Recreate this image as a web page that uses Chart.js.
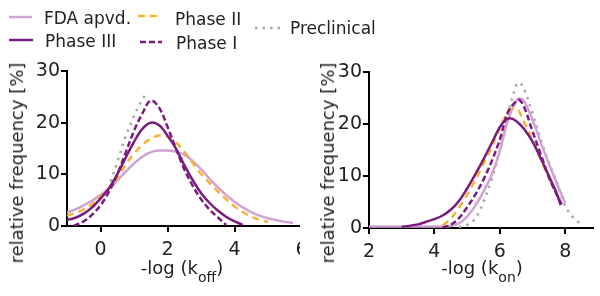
<!DOCTYPE html>
<html><head><meta charset="utf-8">
<script src="https://cdn.jsdelivr.net/npm/chart.js@4.4.1/dist/chart.umd.min.js"></script>
<style>
html,body{margin:0;padding:0;background:#fff;}
#root{position:relative;width:600px;height:296px;overflow:hidden;font-family:"DejaVu Sans",sans-serif;color:#222;}
.wrap{position:absolute;top:0;height:296px;overflow:hidden;}
.lg{position:absolute;font-size:17px;line-height:17px;white-space:nowrap;}
.ytitle{position:absolute;font-size:18px;line-height:18px;white-space:nowrap;transform:translate(-50%,-50%) rotate(-90deg);}
.xtitle{position:absolute;font-size:18px;line-height:18px;white-space:nowrap;transform:translateX(-50%);}
.xtitle span{font-size:14px;position:relative;top:8px;}
svg{position:absolute;left:0;top:0;}
</style></head>
<body><div id="root">
<div class="wrap" style="left:0;width:300px"><canvas id="c1" width="320" height="296"></canvas></div>
<div class="wrap" style="left:300px;width:300px"><canvas id="c2" width="300" height="296"></canvas></div>
<svg id="lgsvg" width="600" height="60"></svg>
<div id="legend"></div>
<div class="ytitle" style="left:17px;top:163px">relative frequency [%]</div>
<div class="ytitle" style="left:328px;top:163px">relative frequency [%]</div>
<div class="xtitle" style="left:182px;top:259px">-log (k<span>off</span>)</div>
<div class="xtitle" style="left:482px;top:259px">-log (k<span>on</span>)</div>
</div>
<script>
// ---- series names ----
const seriesNames = ["FDA apvd.", "Phase III", "Phase II", "Phase I", "Preclinical"];

// ---- tick labels ----
const offTicksX = [0, 2, 4, 6];
const onTicksX = [2, 4, 6, 8];
const freqTicks = [0, 10, 20, 30];

// ---- -log(k_off) panel ----
const offFdaX = [-1,-0.75,-0.5,-0.25,0,0.25,0.5,0.75,1,1.25,1.5,1.75,2,2.25,2.5,2.75,3,3.25,3.5,3.75,4,4.25,4.5,4.75,5,5.25,5.5,5.75];
const offFdaY = [2.6,3.2,4.0,4.9,6.0,7.2,8.8,10.5,12.1,13.4,14.3,14.6,14.6,14.4,13.8,12.6,11.0,9.2,7.5,6.0,4.7,3.6,2.7,2.0,1.5,1.1,0.8,0.6];
const offP3X = [-1,-0.75,-0.5,-0.25,0,0.25,0.5,0.75,1,1.25,1.5,1.75,2,2.25,2.5,2.75,3,3.25,3.5,3.75,4,4.25];
const offP3Y = [1.2,1.6,2.4,3.6,5.3,7.3,10.0,13.2,16.3,18.8,20.0,19.5,17.5,15.0,11.8,8.9,6.4,4.5,3.0,1.8,0.9,0.2];
const offP2X = [-1,-0.75,-0.5,-0.25,0,0.25,0.5,0.75,1,1.25,1.5,1.75,2,2.25,2.5,2.75,3,3.25,3.5,3.75,4,4.25,4.5,4.75,5];
const offP2Y = [2.0,2.5,3.2,4.2,5.7,7.2,9.3,11.9,14.0,15.7,16.9,17.5,17.3,16.2,14.4,12.2,10.1,8.4,6.7,5.2,3.8,2.7,1.8,1.2,0.8];
const offP1X = [-0.8,-0.5,-0.25,0,0.25,0.5,0.75,1,1.25,1.5,1.75,2,2.25,2.5,2.75,3,3.25,3.5,3.75];
const offP1Y = [0,0.9,2.2,4.0,6.6,10.0,14.2,18.4,21.8,24.3,22.9,19.2,15.0,11.0,7.8,5.2,3.2,1.7,0.2];
const offPreX = [0.3,0.5,0.75,1.0,1.15,1.32];
const offPreY = [8.6,12.3,17.3,21.3,23.3,25.2];

// ---- -log(k_on) panel ----
const onFdaX = [2,2.5,3,3.5,4,4.25,4.5,4.75,5,5.25,5.5,5.75,6,6.25,6.5,6.6,6.75,7,7.25,7.5,7.75,8];
const onFdaY = [0.3,0.3,0.3,0.3,0.3,0.3,0.4,0.9,2.2,4.3,7.0,10.2,14.8,20.8,24.4,24.9,24.3,20.8,16.5,12.4,8.5,4.8];
const onP3X = [3,3.5,3.75,4,4.25,4.5,4.75,5,5.25,5.5,5.75,6,6.15,6.3,6.5,6.75,7,7.25,7.5,7.75,7.86];
const onP3Y = [0.2,0.7,1.2,1.7,2.4,3.5,5.2,7.6,10.3,13.2,16.3,19.4,20.6,21.1,20.6,19.0,16.6,13.4,10.0,6.5,4.4];
const onP2X = [4.25,4.5,4.75,5,5.25,5.5,5.75,6,6.25,6.4,6.55,6.75,7,7.25,7.5,7.65];
const onP2Y = [0.5,1.8,3.9,6.4,9.2,12.3,15.6,19.2,22.3,23.0,22.8,20.3,16.9,13.2,9.6,7.5];
const onP1X = [4.25,4.5,4.75,5,5.25,5.5,5.75,6,6.25,6.5,6.6,6.75,7,7.25,7.5,7.75,7.9];
const onP1Y = [0.1,0.6,1.9,4.0,6.4,9.3,12.8,17.0,22.3,24.4,24.6,23.2,18.6,14.2,9.8,6.3,4.5];
const onPreX = [4.75,5,5.25,5.5,5.75,6,6.25,6.5,6.6,6.75,7,7.25,7.5,7.75,8,8.25,8.45];
const onPreY = [0.2,0.6,1.8,5.0,9.3,15.0,21.8,27.4,28.0,26.6,22.0,17.0,12.6,8.7,4.2,2.0,0.9];

// ---- styles ----
const styles = {
  "FDA apvd.":  {color:"#d1a3d3", dash:[], width:2.5},
  "Phase III":  {color:"#7a1b7d", dash:[], width:2.5},
  "Phase II":   {color:"#f8b133", dash:[7,5], width:2.5},
  "Phase I":    {color:"#7a1b7d", dash:[6,3], width:2.5},
  "Preclinical":{color:"#a8a8a8", dash:[2.5,5], width:2.5}
};

const xy = (xs, ys) => xs.map((x, i) => ({x: x, y: ys[i]}));
function ds(name, xs, ys){
  const s = styles[name];
  return {label:name, data:xy(xs, ys), borderColor:s.color, borderDash:s.dash, borderWidth:s.width,
    pointRadius:0, tension:0.35, fill:false, borderCapStyle:'butt'};
}

function makeChart(id, datasets, xmin, xmax, xticks, yW, pad){
  const tickFont = {family:"DejaVu Sans", size:19};
  return new Chart(document.getElementById(id), {
    type:'line',
    data:{datasets:datasets},
    options:{
      responsive:false, animation:false, devicePixelRatio:1,
      layout:{padding:pad},
      plugins:{legend:{display:false}, tooltip:{enabled:false}},
      scales:{
        x:{type:'linear', min:xmin, max:xmax,
           afterBuildTicks:(s)=>{s.ticks = xticks.map(v=>({value:v}));},
           afterFit:(s)=>{s.height = 40;},
           ticks:{font:tickFont, color:'#222', padding:7, maxRotation:0, autoSkip:false},
           grid:{drawOnChartArea:false, drawTicks:true, tickLength:6, tickWidth:2, tickColor:'#000', lineWidth:2, color:'#000'},
           border:{display:true, color:'#000', width:2}},
        y:{type:'linear', min:0, max:30,
           afterBuildTicks:(s)=>{s.ticks = freqTicks.map(v=>({value:v}));},
           afterFit:(s)=>{s.width = yW;},
           ticks:{font:tickFont, color:'#222', padding:1, autoSkip:false},
           grid:{drawOnChartArea:false, drawTicks:true, tickLength:6, tickWidth:2, tickColor:'#000', lineWidth:2, color:'#000'},
           border:{display:true, color:'#000', width:2}}
      }
    }
  });
}

makeChart('c1', [
  ds("Phase I", offP1X, offP1Y),
  ds("Phase III", offP3X, offP3Y),
  ds("Phase II", offP2X, offP2Y),
  ds("FDA apvd.", offFdaX, offFdaY),
  ds("Preclinical", offPreX, offPreY)
], -1, 6, offTicksX, 67, {left:0, right:18.5, top:71, bottom:30});

makeChart('c2', [
  ds("Phase I", onP1X, onP1Y),
  ds("Phase III", onP3X, onP3Y),
  ds("Phase II", onP2X, onP2Y),
  ds("FDA apvd.", onFdaX, onFdaY),
  ds("Preclinical", onPreX, onPreY)
], 2, 8.85, onTicksX, 69, {left:0, right:7, top:72, bottom:28});

// ---- legend (HTML text + svg samples) ----
const legendPos = {
  "FDA apvd.":  {x1:9,   x2:32,  y:17, tx:44,  ty:10},
  "Phase III":  {x1:9,   x2:33,  y:40, tx:45,  ty:33},
  "Phase II":   {x1:138, x2:162, y:16, tx:175, ty:11},
  "Phase I":    {x1:140, x2:162, y:42, tx:176, ty:35},
  "Preclinical":{x1:255, x2:282, y:28, tx:290, ty:20}
};
const svg = document.getElementById('lgsvg');
const leg = document.getElementById('legend');
seriesNames.forEach(n=>{
  const p = legendPos[n], s = styles[n];
  const l = document.createElementNS('http://www.w3.org/2000/svg','line');
  l.setAttribute('x1',p.x1); l.setAttribute('x2',p.x2);
  l.setAttribute('y1',p.y); l.setAttribute('y2',p.y);
  l.setAttribute('stroke',s.color); l.setAttribute('stroke-width',s.width);
  if (s.dash.length) l.setAttribute('stroke-dasharray', s.dash.join(' '));
  svg.appendChild(l);
  const d = document.createElement('div');
  d.className = 'lg'; d.style.left = p.tx + 'px'; d.style.top = p.ty + 'px';
  d.textContent = n; leg.appendChild(d);
});
</script>
</body></html>
